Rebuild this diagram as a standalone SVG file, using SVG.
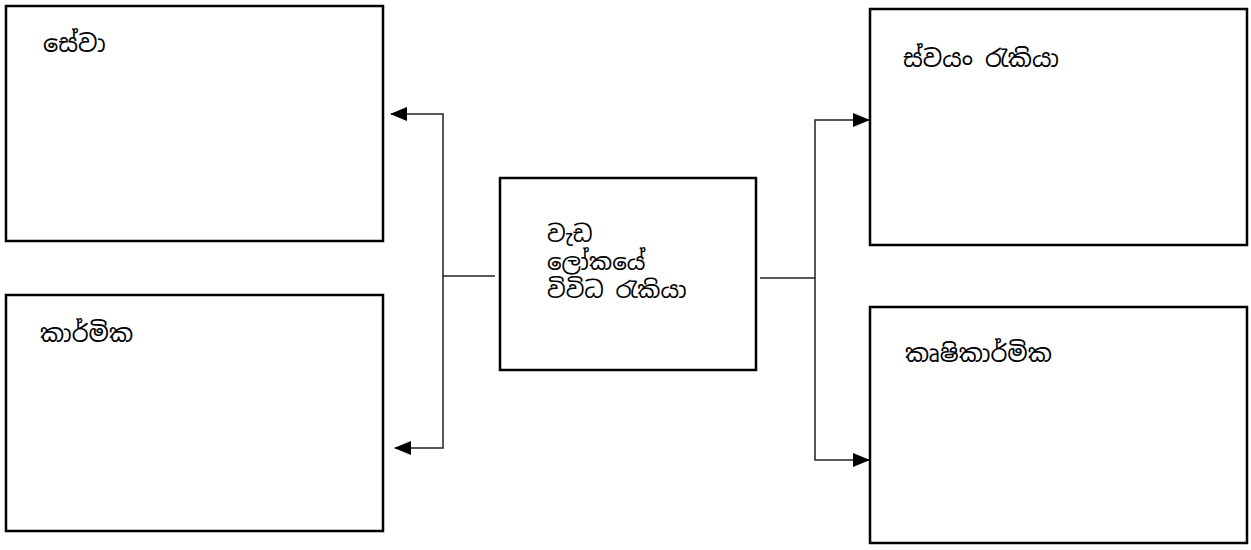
<svg xmlns="http://www.w3.org/2000/svg" width="1251" height="550" viewBox="0 0 1251 550">
<style>
.box{fill:#fff;stroke:#000;stroke-width:2.5}
.conn{fill:none;stroke:#222;stroke-width:1.5}
.lbl{font-family:"Noto Sans Sinhala","Noto Serif Sinhala","Iskoola Pota","Noto Sans","DejaVu Sans",sans-serif;font-size:24px;fill:#000}
.mid{font-size:23px}
</style>
<defs>
<marker id="ah" markerWidth="17" markerHeight="14" refX="16" refY="7" orient="auto" markerUnits="userSpaceOnUse">
<path d="M0,0 L17,7 L0,14 Z" fill="#000"/>
</marker>
</defs>
<rect width="1251" height="550" fill="#fff"/>
<g id="connectors">
<path class="conn" d="M495,276 H443 V114 H391" marker-end="url(#ah)"/>
<path class="conn" d="M443,276 V448 H395" marker-end="url(#ah)"/>
<path class="conn" d="M760,278 H815 V120 H869" marker-end="url(#ah)"/>
<path class="conn" d="M815,278 V460 H869" marker-end="url(#ah)"/>
</g>
<g id="seva">
<rect class="box" x="6" y="6" width="377" height="235"/>
<text class="lbl" x="43" y="52">සේවා</text>
</g>
<g id="karmika">
<rect class="box" x="6" y="295" width="377" height="236"/>
<text class="lbl" x="40" y="342">කාර්මික</text>
</g>
<g id="center">
<rect class="box" x="500" y="178" width="256" height="192"/>
<text class="lbl mid" x="547" y="242">වැඩ</text>
<text class="lbl mid" x="547" y="270">ලෝකයේ</text>
<text class="lbl mid" x="547" y="298">විවිධ රැකියා</text>
</g>
<g id="swayan">
<rect class="box" x="870" y="9" width="377" height="236"/>
<text class="lbl" x="903" y="67">ස්වයං රැකියා</text>
</g>
<g id="krushi">
<rect class="box" x="870" y="307" width="377" height="236"/>
<text class="lbl" x="905" y="362">කෘෂිකාර්මික</text>
</g>
</svg>
